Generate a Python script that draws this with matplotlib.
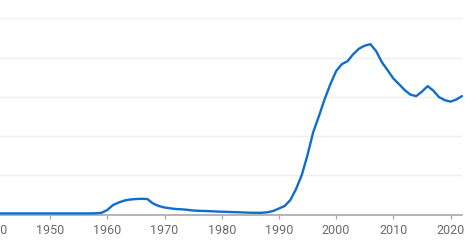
import matplotlib
matplotlib.use("Agg")
import matplotlib.pyplot as plt

years = list(range(1941, 2023))
values = (
    [0.03] * 17  # 1941-1957
    + [0.033, 0.046, 0.117, 0.244, 0.308, 0.359, 0.384, 0.397, 0.402, 0.397,  # 1958-1967
       0.282, 0.219, 0.181, 0.160, 0.142, 0.135, 0.122, 0.104, 0.097, 0.092,  # 1968-1977
       0.087, 0.079, 0.074, 0.069, 0.064, 0.059, 0.053, 0.048, 0.046, 0.046,  # 1978-1987
       0.059, 0.092, 0.155, 0.219, 0.371, 0.651, 1.008, 1.517, 2.102, 2.509,  # 1988-1997
       2.941, 3.323, 3.654, 3.832, 3.908, 4.087, 4.226, 4.303, 4.341, 4.163,  # 1998-2007
       3.883, 3.679, 3.468, 3.323, 3.170, 3.056, 3.018, 3.132, 3.272, 3.158,  # 2008-2017
       2.992, 2.916, 2.878, 2.929, 3.018]                                      # 2018-2022
)
xticks = list(range(1940, 2030, 10))
grid_levels = [1, 2, 3, 4, 5]

W, H = 466, 243
PX_PER_YEAR = 5.72
X1960 = 107.3
x_lo, x_hi = 1939, 2022
left_px = X1960 + (x_lo - 1960) * PX_PER_YEAR
right_px = X1960 + (x_hi - 1960) * PX_PER_YEAR

fig = plt.figure(figsize=(W / 100, H / 100), dpi=100)
ax = fig.add_axes([left_px / W, 28.4 / H, (right_px - left_px) / W, (224.7 - 28.4) / H])

ax.plot(years, values, color="#0f6dcc", lw=1.7, solid_capstyle="round",
        solid_joinstyle="round", zorder=3, clip_on=False)

for g in grid_levels:
    ax.axhline(g, color="#efefef", lw=1.0, zorder=1)

ax.set_xticks(xticks)
ax.set_xticklabels([str(t) for t in xticks], fontsize=9, family="Roboto", color="#6b6b6b")
ax.set_xlim(x_lo, x_hi)
ax.set_ylim(0, 5)
ax.tick_params(axis="x", length=3.2, width=0.9, color="#a8a8a8", pad=3.5)
ax.set_yticks([])
for s in ["top", "left", "right"]:
    ax.spines[s].set_visible(False)
ax.spines["bottom"].set_color("#a8a8a8")
ax.spines["bottom"].set_linewidth(1.2)
ax.spines["bottom"].set_zorder(2)
ax.patch.set_alpha(0)

fig.savefig("out.png", dpi=100)
